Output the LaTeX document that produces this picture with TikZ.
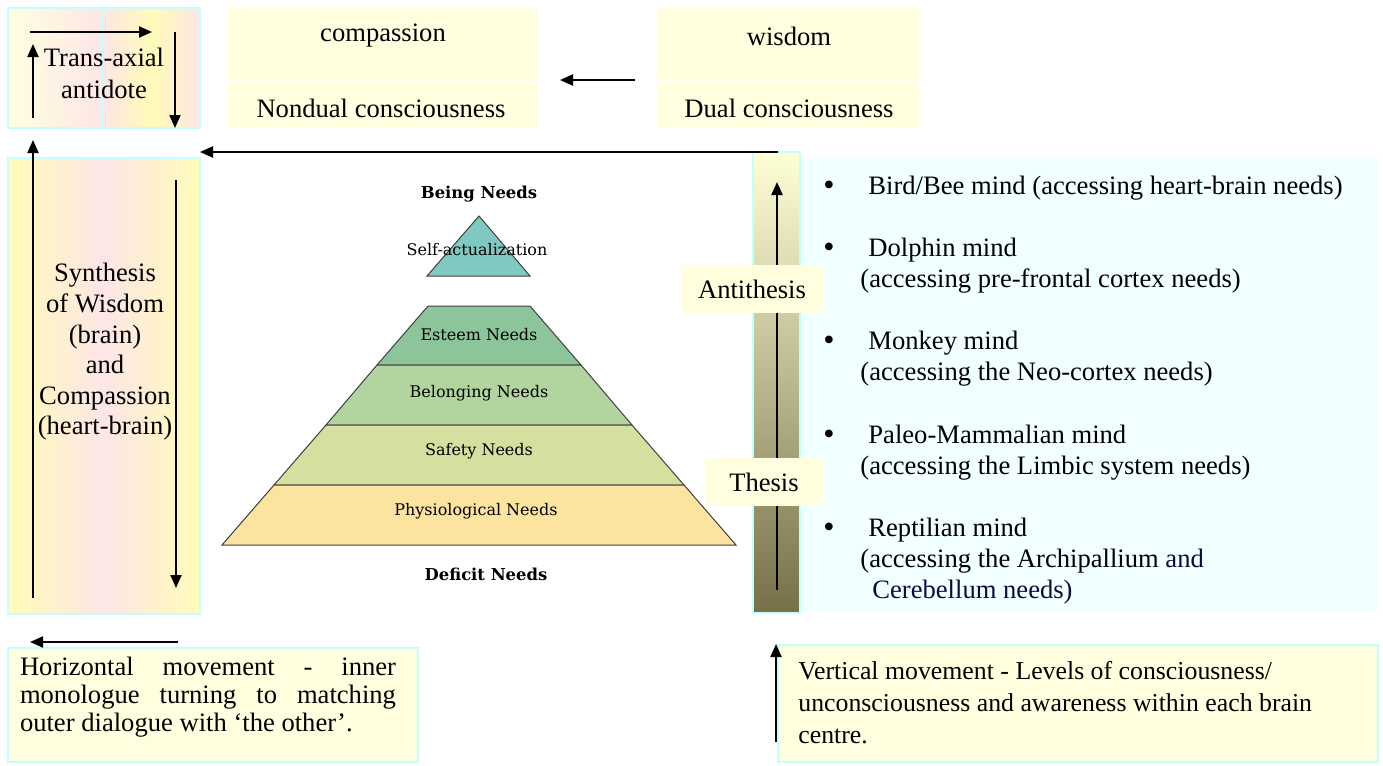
\documentclass[tikz,border=0pt]{standalone}
\usepackage{fontspec}
\setmainfont{Liberation Serif}
\newfontfamily\slabfont{DejaVu Serif}
\usetikzlibrary{arrows.meta}

\definecolor{paleyel}{HTML}{FFFFE0}
\definecolor{edgecyan}{HTML}{C4FFFF}
\definecolor{softpink}{HTML}{FDE6E6}
\definecolor{warmyel}{HTML}{FFFBB8}
\definecolor{paleblue}{HTML}{F0FFFF}
\definecolor{bartop}{HTML}{FFFFD6}
\definecolor{barbot}{HTML}{767046}
\definecolor{selfcol}{HTML}{80C8C2}
\definecolor{esteemcol}{HTML}{8CC59A}
\definecolor{belongcol}{HTML}{B2D49E}
\definecolor{safetycol}{HTML}{D6DFA0}
\definecolor{physcol}{HTML}{FDE3A0}
\definecolor{navytext}{HTML}{0A0A40}

\begin{document}
\begin{tikzpicture}[x=0.5pt,y=-0.5pt,
  every node/.style={inner sep=0pt,font=\fontsize{13.3}{15}\selectfont},
  frame/.style={draw=edgecyan,line width=0.6pt},
  flow/.style={line width=1pt,-{Triangle[length=6.5pt,width=5.5pt]}},
  tier/.style={draw=black!75,line width=0.5pt},
  tiertext/.style={font=\slabfont\fontsize{8}{9}\selectfont},
  needhead/.style={font=\slabfont\bfseries\fontsize{8.2}{9}\selectfont},
  dot/.style={anchor=base,font=\fontsize{16}{16}\selectfont},
  mind/.style={anchor=north west,align=left,font=\fontsize{13.3}{15.5}\selectfont}]
\useasboundingbox (0,0) rectangle (1383,766);

% trans-axial corner
\shade[left color=paleyel,right color=softpink] (8,8) rectangle (103,128);
\shade[left color=softpink,right color=softpink,middle color=warmyel] (103,8) rectangle (200,128);
\draw[frame] (8,8) rectangle (200,128);
\draw[edgecyan,line width=0.6pt] (103,8) -- (103,128);
\node[align=center,font=\fontsize{13.3}{16}\selectfont] (transaxial) at (104,73) {Trans-axial\\antidote};

% top boxes
\fill[paleyel] (228,8) rectangle (538,128);
\draw[white,line width=0.8pt] (228,80) -- (538,80);
\node (compassion) at (383,36) {compassion};
\node (nondual) at (381,108) {Nondual consciousness};
\fill[paleyel] (657,8) rectangle (920,128);
\draw[white,line width=0.8pt] (657,80) -- (920,80);
\node (wisdom) at (789,36) {wisdom};
\node (dual) at (789,108) {Dual consciousness};

% synthesis column
\shade[left color=warmyel,right color=warmyel,middle color=softpink] (8,158) rectangle (200,614);
\draw[frame] (8,158) rectangle (200,614);
\node[align=center,font=\fontsize{13.3}{15.3}\selectfont] (synthesis) at (105,352)
  {Synthesis\\of Wisdom\\(brain)\\and\\Compassion\\(heart-brain)};

% pyramid
\filldraw[tier,fill=selfcol] (427,276) -- (479,216) -- (530,276) -- cycle;
\filldraw[tier,fill=esteemcol] (428,306) -- (530,306) -- (581,365) -- (377,365) -- cycle;
\filldraw[tier,fill=belongcol] (377,365) -- (581,365) -- (632,425) -- (326,425) -- cycle;
\filldraw[tier,fill=safetycol] (326,425) -- (632,425) -- (684,485) -- (274,485) -- cycle;
\filldraw[tier,fill=physcol] (274,485) -- (684,485) -- (736,545) -- (222,545) -- cycle;
\node[needhead] (being) at (479,194) {Being Needs};
\node[tiertext] (selfact) at (477,250) {Self-actualization};
\node[tiertext] (esteem) at (479,335) {Esteem Needs};
\node[tiertext] (belonging) at (479,393) {Belonging Needs};
\node[tiertext] (safety) at (479,451) {Safety Needs};
\node[tiertext] (physio) at (476,511) {Physiological Needs};
\node[needhead] (deficit) at (486,574) {Deficit Needs};

% brain centres
\fill[paleblue] (800,157) rectangle (1378,612);
\shade[top color=bartop,bottom color=barbot] (753,152) rectangle (800,613);
\draw[frame] (753,152) rectangle (800,613);
\node[dot] (b1) at (829,195) {\textbullet};
\node[mind] (bird) at (868,172) {\strut Bird/Bee mind (accessing heart-brain needs)};
\node[dot] (b2) at (829,257) {\textbullet};
\node[mind] (dolphin) at (868,234) {\strut Dolphin mind\\\hspace*{-4pt}(accessing pre-frontal cortex needs)};
\node[dot] (b3) at (829,350) {\textbullet};
\node[mind] (monkey) at (868,327) {\strut Monkey mind\\\hspace*{-4pt}(accessing the Neo-cortex needs)};
\node[dot] (b4) at (829,444) {\textbullet};
\node[mind] (paleo) at (868,421) {\strut Paleo-Mammalian mind\\\hspace*{-4pt}(accessing the Limbic system needs)};
\node[dot] (b5) at (829,537) {\textbullet};
\node[mind] (reptile) at (868,514) {\strut Reptilian mind\\\hspace*{-4pt}(accessing the Archipallium \textcolor{navytext}{and}\\
  \hspace*{2pt}\textcolor{navytext}{Cerebellum needs)}};

% thesis / antithesis
\coordinate (barbase) at (777,590);
\coordinate (bartip) at (777,182);
\draw[flow] (barbase) -- (bartip);
\node[fill=paleyel,minimum width=71pt,minimum height=24pt] (antithesis) at (752,289) {Antithesis};
\node[fill=paleyel,minimum width=59pt,minimum height=24pt] (thesis) at (764,482) {Thesis};

% bottom notes
\fill[paleyel] (8,648) rectangle (418,762);
\draw[frame] (8,648) rectangle (418,762);
\node[text width=188pt,align=justify,font=\fontsize{13.3}{14}\selectfont] (horiz) at (208,697)
  {Horizontal movement - inner\linebreak monologue turning to matching\linebreak outer dialogue with ‘the other’.};
\fill[paleyel] (778,645) rectangle (1378,762);
\draw[frame] (778,645) rectangle (1378,762);
\node[anchor=west,align=left,font=\fontsize{12.9}{16}\selectfont] (vert) at (798,703)
  {Vertical movement - Levels of consciousness/\\unconsciousness and awareness within each brain\\centre.};

% movement arrows
\coordinate (tlA) at (33,118);  \coordinate (tlB) at (33,44);
\coordinate (tlC) at (30,32);   \coordinate (tlD) at (152,32);
\coordinate (trA) at (175,32);  \coordinate (trB) at (175,128);
\draw[flow] (tlA) -- (tlB);
\draw[flow] (tlC) -- (tlD);
\draw[flow] (trA) -- (trB);
\coordinate (leftbase) at (33,598);  \coordinate (lefttip) at (33,140);
\draw[flow] (leftbase) -- (lefttip);
\coordinate (downtop) at (176,180);  \coordinate (downtip) at (176,588);
\draw[flow] (downtop) -- (downtip);
\coordinate (wisfrom) at (635,80);   \coordinate (wisto) at (560,80);
\draw[flow] (wisfrom) -- (wisto);
\coordinate (midfrom) at (778,152);  \coordinate (midto) at (200,152);
\draw[flow] (midfrom) -- (midto);
\coordinate (horfrom) at (178,642);  \coordinate (horto) at (30,642);
\draw[flow] (horfrom) -- (horto);
\coordinate (verfrom) at (776,742);  \coordinate (verto) at (776,644);
\draw[flow] (verfrom) -- (verto);
\end{tikzpicture}
\end{document}
